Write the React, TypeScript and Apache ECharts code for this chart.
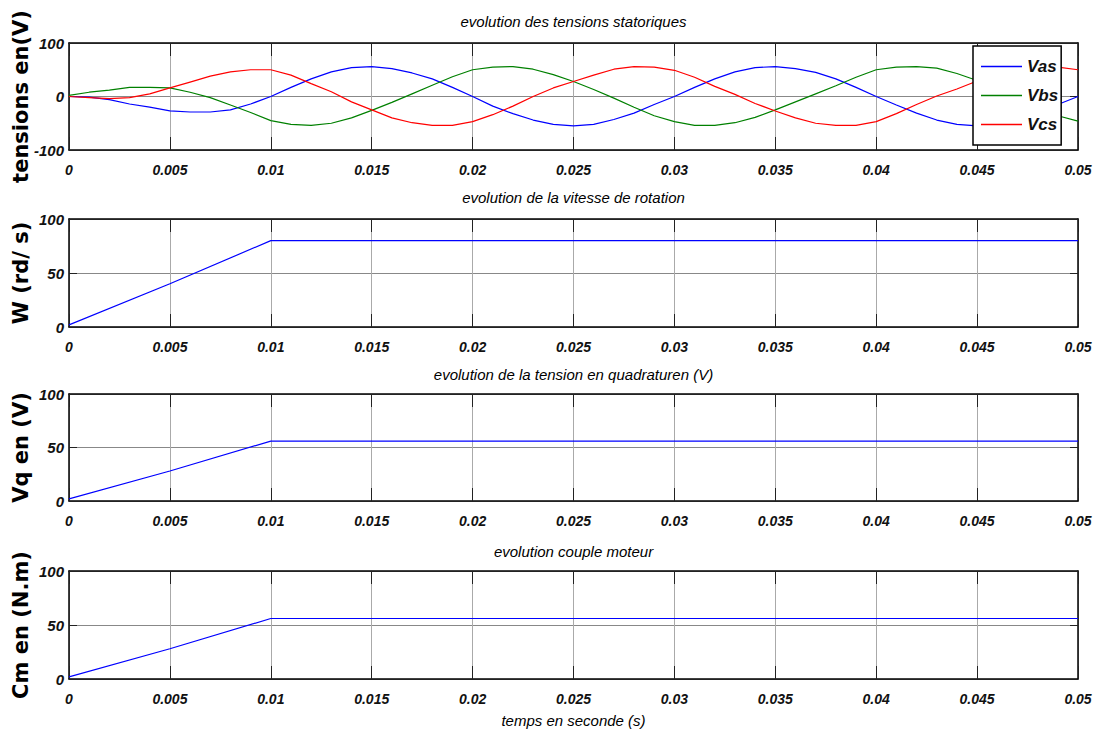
import React, { useEffect, useRef } from "react";
import * as echarts from "echarts";

// ---------- data ----------
// time samples (ms) for the stator voltages
const T_MS = [
  0, 1, 2, 3, 4, 5, 6, 7, 8, 9, 10, 11, 12, 13, 14, 15, 16, 17, 18, 19, 20,
  21, 22, 23, 24, 25, 26, 27, 28, 29, 30, 31, 32, 33, 34, 35, 36, 37, 38, 39, 40,
  41, 42, 43, 44, 45, 46, 47, 48, 49, 50,
];
const VAS = [
  0, -1, -6, -14, -20, -27, -29, -29, -25, -14, 0, 17, 33, 46, 54, 56, 52, 44, 33, 17, 0,
  -18, -32, -44, -52, -55, -52, -43, -31, -15, 0, 17, 33, 46, 54, 56, 52, 45, 33, 17, 0,
  -16, -31, -44, -52, -55, -52, -44, -31, -15, 0,
];
const VBS = [
  2, 8, 12, 17, 17, 16, 8, -2, -16, -30, -45, -52, -54, -50, -40, -26, -11, 5, 21, 37, 50,
  55, 56, 51, 41, 28, 13, -3, -20, -36, -47, -54, -54, -49, -39, -25, -10, 5, 20, 36, 50,
  55, 56, 53, 43, 30, 13, -3, -21, -36, -46,
];
const VCS = [
  0, -2, -4, -2, 5, 16, 27, 38, 46, 50, 50, 40, 24, 9, -10, -25, -40, -49, -54, -54, -47,
  -34, -18, 0, 16, 28, 40, 51, 56, 55, 49, 36, 19, 4, -13, -27, -40, -50, -54, -54, -47,
  -32, -15, 1, 14, 29, 40, 50, 56, 55, 50,
];
// ramp signals
const RAMP_T = [0, 0.005, 0.01, 0.05];
const W_VALS = [2, 40, 80, 80];
const VQ_VALS = [2, 28, 56, 56];
const CM_VALS = [2, 28, 56, 56];

const X_MIN = 0;
const X_MAX = 0.05;
const X_STEP = 0.005;

const TITLES = [
  "evolution des tensions statoriques",
  "evolution de la vitesse de rotation",
  "evolution de la tension en quadraturen (V)",
  "evolution couple moteur",
];
const Y_NAMES = ["tensions en(V)", "W (rd/ s)", "Vq en (V)", "Cm en (N.m)"];
const X_NAME = "temps en seconde (s)";
const LEGEND = ["Vas", "Vbs", "Vcs"];
const Y_RANGES = [
  { min: -100, max: 100, step: 100 },
  { min: 0, max: 100, step: 50 },
  { min: 0, max: 100, step: 50 },
  { min: 0, max: 100, step: 50 },
];

// ---------- styling ----------
const SANS = "'Liberation Sans', Arial, sans-serif";
const WIDE = "'DejaVu Sans', Verdana, sans-serif";
const LEFT = 69;
const WIDTH = 1009;
const GRIDS = [
  { top: 43, height: 107 },
  { top: 219, height: 108 },
  { top: 394, height: 107 },
  { top: 571, height: 108 },
];
const TITLE_Y = [21, 197, 374, 551];

function fmt(v: number) {
  return String(parseFloat(v.toFixed(4)));
}

export default function App() {
  const ref = useRef<HTMLDivElement>(null);

  useEffect(() => {
    if (!ref.current) return;
    const chart = echarts.init(ref.current, undefined, { renderer: "svg" });

    const grid: any[] = [];
    const xAxis: any[] = [];
    const yAxis: any[] = [];
    GRIDS.forEach((g, i) => {
      grid.push({
        left: LEFT,
        top: g.top,
        width: WIDTH,
        height: g.height,
        containLabel: false,
        outerBoundsMode: "none",
      });
      const baseX = {
        gridIndex: i,
        type: "value",
        min: X_MIN,
        max: X_MAX,
        interval: X_STEP,
        axisLine: { show: true, onZero: false, lineStyle: { color: "#000", width: 1.5 } },
        axisTick: { show: true, inside: true, length: 13, lineStyle: { color: "#222", width: 1 } },
      };
      xAxis.push({
        ...baseX,
        position: "bottom",
        axisLabel: {
          margin: 13,
          fontSize: 14,
          fontWeight: "bold",
          fontStyle: "italic",
          fontFamily: SANS,
          color: "#111",
          formatter: (v: number) => fmt(v),
        },
        splitLine: { show: true, lineStyle: { color: "#aaa", width: 1 } },
      });
      xAxis.push({
        ...baseX,
        position: "top",
        axisLabel: { show: false },
        splitLine: { show: false },
      });
      const r = Y_RANGES[i];
      const baseY = {
        gridIndex: i,
        type: "value",
        min: r.min,
        max: r.max,
        interval: r.step,
        axisLine: { show: true, onZero: false, lineStyle: { color: "#000", width: 1.5 } },
        axisTick: { show: true, inside: true, length: 8, lineStyle: { color: "#222", width: 1 } },
      };
      yAxis.push({
        ...baseY,
        position: "left",
        name: Y_NAMES[i],
        nameLocation: "middle",
        nameRotate: 90,
        nameGap: 38,
        nameMoveOverlap: false,
        nameTextStyle: { fontFamily: WIDE, fontWeight: "bold", fontSize: 21, color: "#000" },
        axisLabel: {
          margin: 5,
          fontSize: 15,
          fontWeight: "bold",
          fontStyle: "italic",
          fontFamily: SANS,
          color: "#111",
        },
        splitLine: { show: true, lineStyle: { color: "#888", width: 1 } },
      });
      yAxis.push({
        ...baseY,
        position: "right",
        axisLabel: { show: false },
        splitLine: { show: false },
      });
    });

    const phase = (vals: number[]) => T_MS.map((t, k) => [t / 1000, vals[k]]);
    const ramp = (vals: number[]) => RAMP_T.map((t, k) => [t, vals[k]]);

    const lineBase = {
      type: "line",
      symbol: "none",
      showSymbol: false,
      smooth: false,
      silent: true,
    };

    const series: any[] = [
      { ...lineBase, name: LEGEND[0], xAxisIndex: 0, yAxisIndex: 0, data: phase(VAS), lineStyle: { color: "#0000ff", width: 1.2 }, itemStyle: { color: "#0000ff" } },
      { ...lineBase, name: LEGEND[1], xAxisIndex: 0, yAxisIndex: 0, data: phase(VBS), lineStyle: { color: "#008000", width: 1.2 }, itemStyle: { color: "#008000" } },
      { ...lineBase, name: LEGEND[2], xAxisIndex: 0, yAxisIndex: 0, data: phase(VCS), lineStyle: { color: "#ff0000", width: 1.2 }, itemStyle: { color: "#ff0000" } },
      { ...lineBase, name: "W", xAxisIndex: 2, yAxisIndex: 2, data: ramp(W_VALS), lineStyle: { color: "#0000ff", width: 1.2 }, itemStyle: { color: "#0000ff" } },
      { ...lineBase, name: "Vq", xAxisIndex: 4, yAxisIndex: 4, data: ramp(VQ_VALS), lineStyle: { color: "#0000ff", width: 1.2 }, itemStyle: { color: "#0000ff" } },
      { ...lineBase, name: "Cm", xAxisIndex: 6, yAxisIndex: 6, data: ramp(CM_VALS), lineStyle: { color: "#0000ff", width: 1.2 }, itemStyle: { color: "#0000ff" } },
    ];

    const titleFont = `italic 15px ${SANS}`;
    const graphic: any[] = TITLES.map((t, i) => ({
      type: "text",
      x: LEFT + WIDTH / 2,
      y: TITLE_Y[i],
      style: {
        text: t,
        textAlign: "center",
        textVerticalAlign: "middle",
        font: titleFont,
        fill: "#000",
      },
    }));
    graphic.push({
      type: "text",
      x: LEFT + WIDTH / 2,
      y: 720,
      style: {
        text: X_NAME,
        textAlign: "center",
        textVerticalAlign: "middle",
        font: titleFont,
        fill: "#000",
      },
    });

    chart.setOption({
      animation: false,
      backgroundColor: "#fff",
      grid,
      xAxis,
      yAxis,
      series,
      graphic,
      legend: {
        data: LEGEND,
        orient: "vertical",
        left: 973,
        top: 46,
        icon: "rect",
        backgroundColor: "#fff",
        borderColor: "#000",
        borderWidth: 1.5,
        padding: [11, 3, 11, 8],
        itemWidth: 41,
        itemHeight: 1.5,
        itemGap: 10,
        selectedMode: false,
        textStyle: {
          fontFamily: SANS,
          fontWeight: "bold",
          fontStyle: "italic",
          fontSize: 17,
          lineHeight: 19,
          color: "#111",
        },
      },
    });

    return () => chart.dispose();
  }, []);

  return (
    <div
      ref={ref}
      style={{ position: "fixed", left: 0, top: 0, width: 1099, height: 737, background: "#fff" }}
    />
  );
}
